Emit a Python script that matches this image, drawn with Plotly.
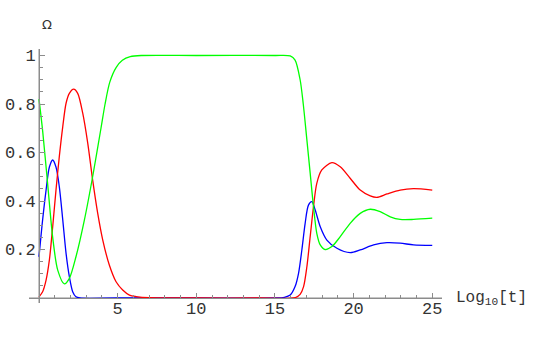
import plotly.graph_objects as go

# ---- data ----
green_x = [0, 0.23, 0.55, 0.87, 1.19, 1.61, 1.93, 2.35, 2.88, 3.41, 3.94, 4.2, 4.5, 4.9, 5.3, 5.8, 6.5,
           10, 15, 15.97, 16.28, 16.6, 16.8, 17.03, 17.24, 17.45, 17.66, 17.88, 18.19, 18.62, 19.15,
           19.78, 20.42, 21.06, 21.69, 22.33, 22.96, 23.81, 25]
green_y = [0.82, 0.69, 0.47, 0.25, 0.115, 0.058, 0.081, 0.17, 0.32, 0.50, 0.70, 0.80, 0.89, 0.95, 0.98, 0.995, 1.0,
           1.0, 1.0, 0.998, 0.981, 0.9, 0.8, 0.652, 0.515, 0.377, 0.267, 0.219, 0.2, 0.212, 0.253,
           0.308, 0.349, 0.366, 0.356, 0.335, 0.324, 0.324, 0.329]

red_x = [0, 0.23, 0.45, 0.66, 0.87, 1.08, 1.29, 1.51, 1.72, 1.93, 2.2, 2.46, 2.78, 3.1, 3.41, 3.73, 4.05,
         4.47, 4.9, 5.32, 5.75, 6.17, 7, 10, 14, 16.3, 16.6, 16.82, 17.03, 17.24, 17.45, 17.66, 17.98,
         18.62, 19.15, 19.78, 20.42, 21.06, 21.48, 22.12, 22.96, 23.81, 25]
red_y = [0.005, 0.026, 0.074, 0.157, 0.294, 0.445, 0.583, 0.707, 0.803, 0.844, 0.861, 0.844, 0.762, 0.638,
         0.487, 0.35, 0.24, 0.136, 0.067, 0.033, 0.012, 0.006, 0.001, 0, 0, 0.002, 0.015, 0.047, 0.129,
         0.253, 0.377, 0.473, 0.528, 0.558, 0.541, 0.494, 0.445, 0.421, 0.415, 0.429, 0.445, 0.451, 0.445]

blue_x = [0, 0.23, 0.45, 0.66, 0.87, 1.08, 1.29, 1.51, 1.72, 1.93, 2.14, 2.35, 2.6, 5, 10, 15, 15.6,
          15.97, 16.28, 16.5, 16.71, 16.92, 17.13, 17.35, 17.56, 17.88, 18.3, 18.94, 19.78, 20.42,
          21.27, 22.12, 22.96, 23.81, 25]
blue_y = [0.17, 0.322, 0.445, 0.54, 0.569, 0.54, 0.459, 0.322, 0.184, 0.088, 0.026, 0.005, 0, 0, 0, 0, 0.003,
          0.012, 0.047, 0.102, 0.198, 0.308, 0.383, 0.397, 0.363, 0.294, 0.239, 0.205, 0.187, 0.198,
          0.219, 0.228, 0.226, 0.219, 0.217]

x_tick_vals = [5, 10, 15, 20, 25]
x_tick_text = ["5", "10", "15", "20", "25"]
y_tick_vals = [0.2, 0.4, 0.6, 0.8, 1.0]
y_tick_text = ["0.2", "0.4", "0.6", "0.8", "1"]

# ---- figure ----
W, H = 545, 337
ML, MR, MT, MB = 29, 103, 49, 34
x_range = [-0.636, 25.62]
y_range = [-0.0206, 1.0268]

fig = go.Figure()
for xs, ys, col in [(blue_x, blue_y, "#0000ff"), (red_x, red_y, "#ff0000"), (green_x, green_y, "#00ff00")]:
    fig.add_trace(go.Scatter(x=xs, y=ys, mode="lines",
                             line=dict(color=col, width=1.3, shape="spline", smoothing=0.8),
                             showlegend=False, hoverinfo="skip"))

axis_col = "#8c8c8c"
mono = "Liberation Mono, Courier New, monospace"
tick_font = dict(family=mono, size=17, color="#333333")

x_pos = (0 - y_range[0]) / (y_range[1] - y_range[0])
y_pos = (0 - x_range[0]) / (x_range[1] - x_range[0])

fig.update_layout(
    width=W, height=H,
    margin=dict(l=ML, r=MR, t=MT, b=MB, autoexpand=False),
    paper_bgcolor="white", plot_bgcolor="white",
    hovermode=False,
    xaxis=dict(range=x_range, showgrid=False, zeroline=False, automargin=False,
               showline=True, linecolor=axis_col, linewidth=1,
               anchor="free", position=x_pos,
               ticks="inside", ticklen=5, tickwidth=1, tickcolor=axis_col,
               ticklabelstandoff=-5,
               tickvals=x_tick_vals, ticktext=x_tick_text, tickfont=tick_font,
               minor=dict(ticks="inside", ticklen=3, tickwidth=1, tickcolor=axis_col, dtick=1, tick0=0, showgrid=False)),
    yaxis=dict(range=y_range, showgrid=False, zeroline=False, automargin=False,
               showline=True, linecolor=axis_col, linewidth=1,
               anchor="free", position=y_pos,
               ticks="inside", ticklen=5, tickwidth=1, tickcolor=axis_col,
               tickvals=y_tick_vals, ticktext=y_tick_text, tickfont=tick_font,
               minor=dict(ticks="inside", ticklen=3, tickwidth=1, tickcolor=axis_col, dtick=0.05, tick0=0, showgrid=False)),
)

# axis lines through the origin (Mathematica style), drawn under the curves
fig.add_shape(type="line", xref="paper", yref="y", x0=0, x1=1, y0=0, y1=0,
              line=dict(color=axis_col, width=1), layer="below")
fig.add_shape(type="line", xref="x", yref="paper", x0=0, x1=0, y0=0, y1=1,
              line=dict(color=axis_col, width=1), layer="below")

fig.add_annotation(text="Log<sub>10</sub>[t]", xref="paper", yref="paper",
                   x=1.0, y=x_pos, xanchor="left", yanchor="middle", xshift=12,
                   showarrow=False, font=dict(family=mono, size=16, color="#333333"))
fig.add_annotation(text="Ω", xref="paper", yref="paper",
                   x=y_pos, y=1.0, xanchor="center", yanchor="bottom", yshift=15, xshift=8,
                   showarrow=False, font=dict(family="DejaVu Sans, sans-serif", size=13, color="#333333"))

fig.write_html("out.html", config={"displayModeBar": False, "staticPlot": True},
               post_script="document.body.style.margin='0';")
